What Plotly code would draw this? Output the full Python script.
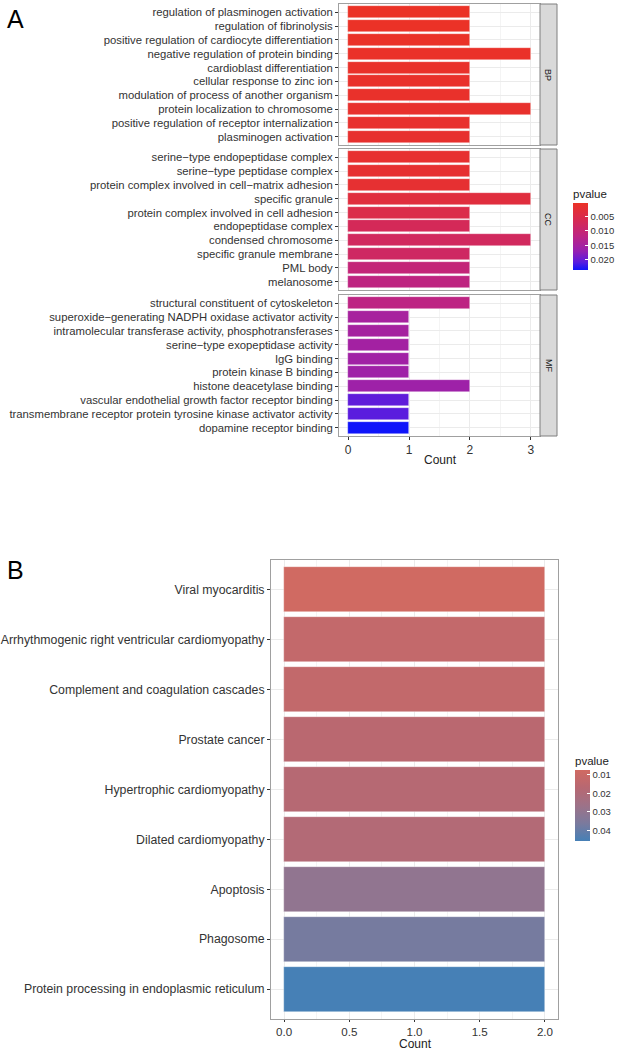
import plotly.graph_objects as go

# GO enrichment (panel A), ordered top -> bottom within each facet
bp_terms = ["regulation of plasminogen activation", "regulation of fibrinolysis",
            "positive regulation of cardiocyte differentiation", "negative regulation of protein binding",
            "cardioblast differentiation", "cellular response to zinc ion",
            "modulation of process of another organism", "protein localization to chromosome",
            "positive regulation of receptor internalization", "plasminogen activation"]
bp_count = [2, 2, 2, 3, 2, 2, 2, 3, 2, 2]
bp_p = [0.0003, 0.0004, 0.0005, 0.0007, 0.0008, 0.0009, 0.0010, 0.0012, 0.0013, 0.0014]

cc_terms = ["serine\u2212type endopeptidase complex", "serine\u2212type peptidase complex",
            "protein complex involved in cell\u2212matrix adhesion", "specific granule",
            "protein complex involved in cell adhesion", "endopeptidase complex",
            "condensed chromosome", "specific granule membrane", "PML body", "melanosome"]
cc_count = [2, 2, 2, 3, 2, 2, 3, 2, 2, 2]
cc_p = [0.0016, 0.0017, 0.0019, 0.0035, 0.0050, 0.0068, 0.0075, 0.0080, 0.0105, 0.0115]

mf_terms = ["structural constituent of cytoskeleton",
            "superoxide\u2212generating NADPH oxidase activator activity",
            "intramolecular transferase activity, phosphotransferases",
            "serine\u2212type exopeptidase activity", "IgG binding", "protein kinase B binding",
            "histone deacetylase binding", "vascular endothelial growth factor receptor binding",
            "transmembrane receptor protein tyrosine kinase activator activity",
            "dopamine receptor binding"]
mf_count = [2, 1, 1, 1, 1, 1, 2, 1, 1, 1]
mf_p = [0.0118, 0.0148, 0.0150, 0.0153, 0.0156, 0.0158, 0.0160, 0.0205, 0.0208, 0.0236]

# KEGG enrichment (panel B)
kegg_terms = ["Viral myocarditis", "Arrhythmogenic right ventricular cardiomyopathy",
              "Complement and coagulation cascades", "Prostate cancer",
              "Hypertrophic cardiomyopathy", "Dilated cardiomyopathy", "Apoptosis",
              "Phagosome", "Protein processing in endoplasmic reticulum"]
kegg_count = [2, 2, 2, 2, 2, 2, 2, 2, 2]
kegg_p = [0.0074, 0.0125, 0.0128, 0.0160, 0.0175, 0.0185, 0.0300, 0.0370, 0.0457]

go_ticks = [0.005, 0.010, 0.015, 0.020]
kegg_ticks = [0.01, 0.02, 0.03, 0.04]

W, H = 619, 1050
FONT = "Liberation Sans, Arial, sans-serif"
GRID = "#ebebeb"
BORDER = "#a0a0a0"

def px_x(p):
    return p / W

def px_y(p):
    return 1 - p / H

# colour scales: blue end first because colours are drawn from -pvalue
go_scale = [[0.0, "rgb(15,20,250)"], [0.12, "rgb(90,28,222)"], [0.28, "rgb(150,32,178)"],
            [0.5, "rgb(188,36,132)"], [0.75, "rgb(215,42,82)"], [1.0, "rgb(235,50,38)"]]
kegg_scale = [[0.0, "rgb(70,128,182)"], [0.25, "rgb(123,122,157)"], [0.5, "rgb(157,114,136)"],
              [0.75, "rgb(183,104,114)"], [1.0, "rgb(208,106,98)"]]

fig = go.Figure()

facets = [("BP", bp_terms, bp_count, bp_p, (4, 145)),
          ("CC", cc_terms, cc_count, cc_p, (149, 290)),
          ("MF", mf_terms, mf_count, mf_p, (295, 436))]

ax_left, ax_right, strip_right = 339, 540, 557
all_p = bp_p + cc_p + mf_p

for i, (name, terms, counts, pv, (top, bot)) in enumerate(facets):
    n = i + 1
    xa = "x" if n == 1 else "x%d" % n
    ya = "y" if n == 1 else "y%d" % n
    fig.add_trace(go.Bar(
        x=counts, y=terms, orientation="h", width=0.86,
        marker=dict(color=[-p for p in pv], coloraxis="coloraxis",
                    line=dict(color="rgba(255,255,255,0.6)", width=0.6)),
        xaxis=xa, yaxis=ya, showlegend=False))
    xkey = "xaxis" if n == 1 else "xaxis%d" % n
    ykey = "yaxis" if n == 1 else "yaxis%d" % n
    fig.layout[xkey] = dict(
        domain=[px_x(ax_left), px_x(ax_right)], anchor=ya, range=[-0.15, 3.15],
        tickvals=[0, 1, 2, 3], showticklabels=(n == 3), ticks="outside" if n == 3 else "",
        ticklen=3, tickcolor="#333", showgrid=True, gridcolor=GRID, gridwidth=1,
        minor=dict(dtick=0.5, tick0=0.5, showgrid=True, gridcolor="#f4f4f4", gridwidth=0.6),
        zeroline=False, showline=True, mirror=True, linecolor=BORDER, linewidth=1,
        tickfont=dict(size=12, color="#333", family=FONT))
    fig.layout[ykey] = dict(
        domain=[px_y(bot), px_y(top)], anchor=xa, type="category",
        categoryorder="array", categoryarray=terms[::-1], range=[-0.6, 9.6],
        tickmode="array", tickvals=terms, ticktext=terms,
        ticks="outside", ticklen=3, tickcolor="#333", showgrid=True, gridcolor=GRID,
        zeroline=False, showline=True, mirror=True, linecolor=BORDER, linewidth=1,
        tickfont=dict(size=11.3, color="#333", family=FONT))
    # facet strip
    fig.add_shape(type="rect", xref="paper", yref="paper",
                  x0=px_x(ax_right), x1=px_x(strip_right), y0=px_y(bot), y1=px_y(top),
                  fillcolor="#d9d9d9", line=dict(color="#7f7f7f", width=1))
    fig.add_annotation(text=name, xref="paper", yref="paper", showarrow=False,
                       x=px_x((ax_right + strip_right) / 2), y=px_y((top + bot) / 2),
                       xanchor="center", yanchor="middle",
                       textangle=90, font=dict(size=9, color="#1a1a1a", family=FONT))

# panel B
fig.add_trace(go.Bar(
    x=kegg_count, y=kegg_terms, orientation="h", width=0.9,
    marker=dict(color=[-p for p in kegg_p], coloraxis="coloraxis2",
                line=dict(color="rgba(255,255,255,0.6)", width=0.6)),
    xaxis="x4", yaxis="y4", showlegend=False))
fig.layout["xaxis4"] = dict(
    domain=[px_x(271), px_x(558)], anchor="y4", range=[-0.1, 2.1],
    tickvals=[0, 0.5, 1, 1.5, 2], ticktext=["0.0", "0.5", "1.0", "1.5", "2.0"],
    ticks="outside", ticklen=2, tickcolor="#333", showgrid=True, gridcolor=GRID,
    minor=dict(dtick=0.5, tick0=0.25, showgrid=True, gridcolor="#f4f4f4", gridwidth=0.6),
    zeroline=False, showline=True, mirror=True, linecolor=BORDER, linewidth=1,
    tickfont=dict(size=11.6, color="#333", family=FONT))
fig.layout["yaxis4"] = dict(
    domain=[px_y(1019), px_y(560)], anchor="x4", type="category",
    categoryorder="array", categoryarray=kegg_terms[::-1], range=[-0.6, 8.6],
    ticks="outside", ticklen=3, tickcolor="#333", showgrid=True, gridcolor=GRID,
    zeroline=False, showline=True, mirror=True, linecolor=BORDER, linewidth=1,
    tickfont=dict(size=12.3, color="#333", family=FONT))

fig.update_layout(
    width=W, height=H, plot_bgcolor="white", paper_bgcolor="white",
    margin=dict(l=0, r=0, t=0, b=0, autoexpand=False), bargap=0,
    font=dict(family=FONT, color="#333"),
    coloraxis=dict(
        colorscale=go_scale, cmin=-max(all_p), cmax=-min(all_p),
        colorbar=dict(
            title=dict(text="pvalue", side="top", font=dict(size=11.5, color="#222")),
            tickvals=[-t for t in go_ticks], ticktext=["%.3f" % t for t in go_ticks],
            ticks="inside", ticklen=3, tickcolor="white", outlinewidth=0,
            thicknessmode="pixels", thickness=15, lenmode="pixels", len=84,
            x=px_x(573), xanchor="left", xpad=0, ypad=0,
            y=px_y(228), yanchor="middle",
            tickfont=dict(size=9.5, color="#333"))),
    coloraxis2=dict(
        colorscale=kegg_scale, cmin=-max(kegg_p), cmax=-min(kegg_p),
        colorbar=dict(
            title=dict(text="pvalue", side="top", font=dict(size=11.5, color="#222")),
            tickvals=[-t for t in kegg_ticks], ticktext=["%.2f" % t for t in kegg_ticks],
            ticks="inside", ticklen=3, tickcolor="white", outlinewidth=0,
            thicknessmode="pixels", thickness=15, lenmode="pixels", len=88,
            x=px_x(575), xanchor="left", xpad=0, ypad=0,
            y=px_y(797), yanchor="middle",
            tickfont=dict(size=9.5, color="#333"))),
)

# panel letters and axis titles
fig.add_annotation(text="A", xref="paper", yref="paper", x=px_x(5), y=px_y(19),
                   xanchor="left", yanchor="middle", showarrow=False,
                   font=dict(size=25, color="black", family=FONT))
fig.add_annotation(text="B", xref="paper", yref="paper", x=px_x(5), y=px_y(570),
                   xanchor="left", yanchor="middle", showarrow=False,
                   font=dict(size=25, color="black", family=FONT))
fig.add_annotation(text="Count", xref="paper", yref="paper", x=px_x(440), y=px_y(460),
                   xanchor="center", yanchor="middle", showarrow=False,
                   font=dict(size=12, color="#222", family=FONT))
fig.add_annotation(text="Count", xref="paper", yref="paper", x=px_x(415), y=px_y(1044),
                   xanchor="center", yanchor="middle", showarrow=False,
                   font=dict(size=12, color="#222", family=FONT))

# the page body keeps its default 8px margin unless it is cleared
fig.write_html("out.html", config={"displayModeBar": False},
               post_script="document.body.style.margin='0';")
